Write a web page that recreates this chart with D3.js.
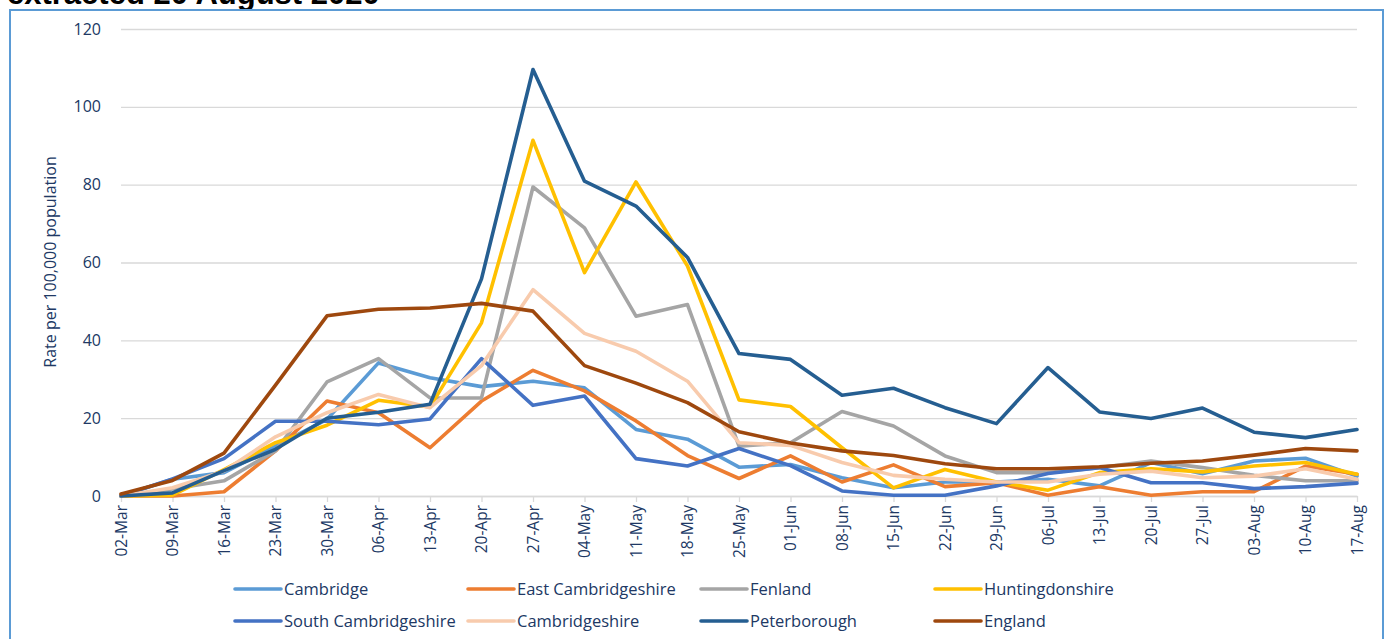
<!DOCTYPE html>
<html>
<head>
<meta charset="utf-8">
<script src="https://cdn.jsdelivr.net/npm/d3@7"></script>
<style>
  body { margin: 0; background: #fff; }
  svg { display: block; font-family: "Open Sans", Lato, sans-serif; }
</style>
</head>
<body>
<div id="chart"></div>
<script>
// Weekly rate per 100,000 population

const weeks = ['02-Mar','09-Mar','16-Mar','23-Mar','30-Mar','06-Apr','13-Apr','20-Apr','27-Apr',
    '04-May','11-May','18-May','25-May','01-Jun','08-Jun','15-Jun','22-Jun','29-Jun',
    '06-Jul','13-Jul','20-Jul','27-Jul','03-Aug','10-Aug','17-Aug'];

const yTicks = [0, 20, 40, 60, 80, 100, 120];

const cambridge = [0, 4.3, 6.0, 12.8, 19.7, 34.2, 30.4, 28.1, 29.5, 27.8, 17.1, 14.6, 7.4, 8.1,
    4.7, 2.1, 3.6, 3.6, 4.3, 2.6, 8.6, 5.7, 9.0, 9.7, 5.1];
const eastCambs = [0, 0, 1.1, 11.6, 24.4, 21.4, 12.4, 24.4, 32.3, 27.0, 19.3, 10.4, 4.5, 10.3,
    3.6, 8.0, 2.4, 3.4, 0.2, 2.4, 0.2, 1.1, 1.1, 7.7, 5.6];
const fenland = [0, 1.8, 3.9, 11.6, 29.3, 35.3, 25.2, 25.2, 79.4, 68.9, 46.2, 49.2, 12.8, 13.7,
    21.7, 18.0, 10.3, 6.0, 6.0, 7.3, 9.0, 7.3, 5.3, 3.9, 3.9];
const hunts = [0, 0.2, 6.8, 13.7, 18.2, 24.6, 22.9, 44.5, 91.4, 57.4, 80.7, 59.1, 24.7, 23.0,
    12.4, 2.1, 6.8, 3.6, 1.5, 6.0, 7.0, 6.2, 7.7, 8.6, 5.6];
const southCambs = [0, 4.4, 9.6, 19.2, 19.2, 18.3, 19.8, 35.3, 23.3, 25.7, 9.6, 7.7, 12.2, 7.8,
    1.3, 0.2, 0.2, 2.6, 5.8, 7.3, 3.4, 3.4, 1.9, 2.4, 3.3];
const cambridgeshire = [0, 2.1, 6.4, 15.2, 21.4, 26.1, 22.7, 33.5, 53.0, 41.8, 37.2, 29.5, 13.7, 13.0,
    8.6, 5.3, 4.3, 3.6, 3.6, 5.6, 6.4, 4.7, 5.1, 7.0, 4.3];
const peterborough = [0, 0.8, 6.5, 12.0, 20.0, 21.5, 23.6, 55.8, 109.6, 80.9, 74.5, 61.3, 36.6, 35.1,
    25.9, 27.7, 22.7, 18.6, 33.0, 21.6, 19.9, 22.6, 16.4, 15.0, 17.1];
const england = [0.5, 4.0, 11.0, 28.5, 46.3, 48.0, 48.3, 49.5, 47.5, 33.5, 29.0, 24.0, 16.5, 13.6,
    11.6, 10.4, 8.3, 7.0, 7.0, 7.5, 8.4, 9.0, 10.5, 12.2, 11.6];

const seriesNames = ['Cambridge', 'East Cambridgeshire', 'Fenland', 'Huntingdonshire',
    'South Cambridgeshire', 'Cambridgeshire', 'Peterborough', 'England'];
const seriesValues = [cambridge, eastCambs, fenland, hunts, southCambs, cambridgeshire, peterborough, england];
const seriesColors = ['#5B9BD5', '#ED7D31', '#A5A5A5', '#FFC000', '#4472C4', '#F8CBAD', '#255E91', '#9E480E'];

function drawChart() {
    const W = 1388, H = 639;
    const textColor = '#203864';
    const font = '"Open Sans", Lato, sans-serif';

    const svg = d3.select('#chart').append('svg')
        .attr('width', W)
        .attr('height', H);

    // Title of the slide, cut off by the top edge as in the source
    svg.append('text')
        .attr('x', 7)
        .attr('y', 4)
        .attr('font-family', '"Liberation Sans", Arial, sans-serif')
        .attr('font-weight', 'bold')
        .attr('font-size', '31px')
        .attr('fill', '#000')
        .text('extracted 20 August 2020');

    // Chart frame
    svg.append('rect')
        .attr('x', 10)
        .attr('y', 10)
        .attr('width', 1373)
        .attr('height', 660)
        .attr('fill', 'none')
        .attr('stroke', '#5B9BD5')
        .attr('stroke-width', 2);

    const x = d3.scalePoint()
        .domain(weeks)
        .range([121, 1357]);

    const y = d3.scaleLinear()
        .domain([0, 120])
        .range([496, 29]);

    // Grid
    svg.append('g')
        .attr('transform', 'translate(121,0)')
        .call(d3.axisLeft(y).tickValues(yTicks).tickSize(-1236).tickFormat(''))
        .call(g => g.select('.domain').remove())
        .call(g => g.selectAll('line').attr('stroke', '#D9D9D9').attr('stroke-width', 1.3));

    // Y axis labels
    svg.append('g')
        .attr('transform', 'translate(121,0)')
        .call(d3.axisLeft(y).tickValues(yTicks).tickSize(0).tickPadding(20))
        .call(g => g.select('.domain').remove())
        .call(g => g.selectAll('text')
            .attr('fill', textColor)
            .attr('font-size', '16px')
            .attr('font-family', font));

    // X axis
    const xAxis = svg.append('g')
        .attr('transform', 'translate(0,496)')
        .call(d3.axisBottom(x).tickSize(6).tickSizeOuter(0));

    xAxis.select('.domain').attr('stroke', '#D9D9D9').attr('stroke-width', 1.3);
    xAxis.selectAll('.tick line').attr('stroke', '#D9D9D9').attr('stroke-width', 1.3);
    xAxis.selectAll('.tick text')
        .attr('fill', textColor)
        .attr('font-size', '15.5px')
        .attr('font-family', font)
        .attr('transform', 'rotate(-90)')
        .attr('text-anchor', 'end')
        .attr('x', -9)
        .attr('y', 0)
        .attr('dy', '0.35em');

    // Y title
    svg.append('text')
        .attr('transform', 'translate(56,262) rotate(-90)')
        .attr('text-anchor', 'middle')
        .attr('fill', textColor)
        .attr('font-size', '16px')
        .attr('font-family', font)
        .text('Rate per 100,000 population');

    // Lines
    const line = d3.line()
        .x((d, i) => x(weeks[i]))
        .y(d => y(d));

    seriesValues.forEach((vals, k) => {
        svg.append('path')
            .datum(vals)
            .attr('fill', 'none')
            .attr('stroke', seriesColors[k])
            .attr('stroke-width', 3.6)
            .attr('stroke-linejoin', 'round')
            .attr('stroke-linecap', 'round')
            .attr('d', line);
    });

    // Legend
    const colX = [235, 468, 701, 935];
    const rowY = [589, 621];
    seriesNames.forEach((name, k) => {
        const lx = colX[k % 4], ly = rowY[Math.floor(k / 4)];
        const g = svg.append('g').attr('transform', `translate(${lx},${ly})`);
        g.append('line')
            .attr('x1', 0).attr('x2', 46)
            .attr('y1', 0).attr('y2', 0)
            .attr('stroke', seriesColors[k])
            .attr('stroke-width', 3.6)
            .attr('stroke-linecap', 'round');
        g.append('text')
            .attr('x', 49)
            .attr('y', 0)
            .attr('dy', '0.35em')
            .attr('fill', textColor)
            .attr('font-size', '16.5px')
            .attr('font-family', font)
            .text(name);
    });
}

drawChart();
</script>
</body>
</html>
